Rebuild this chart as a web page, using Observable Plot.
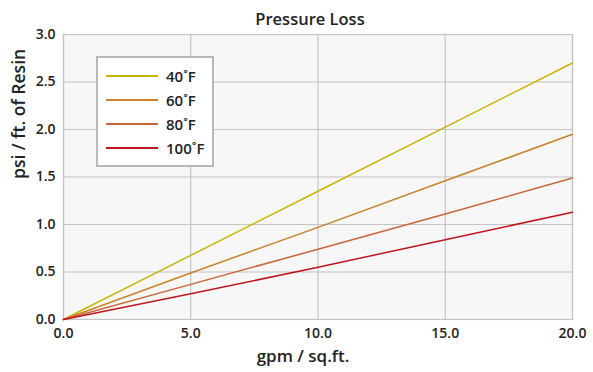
<!DOCTYPE html>
<html>
<head>
<meta charset="utf-8">
<script src="https://cdn.jsdelivr.net/npm/d3@7"></script>
<script src="https://cdn.jsdelivr.net/npm/@observablehq/plot@0.6"></script>
<style>
  html, body { margin: 0; padding: 0; background: #fff; }
  #wrap { position: relative; width: 593px; height: 372px; font-family: "Open Sans", "Noto Sans", sans-serif; }
  #legend { position: absolute; left: 96px; top: 56px; width: 118px; height: 111px; background: #fff; border: 2px solid #b8b8b8; box-sizing: border-box; }
  .row { position: absolute; left: 8px; height: 20px; display: flex; align-items: center; font-size: 15px; font-weight: 600; color: #222; }
  .sw { width: 52px; height: 0; border-top: 2px solid; margin-right: 8px; }
</style>
</head>
<body>
<div id="wrap"><div id="legend"></div></div>
<script>
const title = "Pressure Loss";
const xLabel = "gpm / sq.ft.";
const yLabel = "psi / ft. of Resin";
const flow = [0, 5, 10, 15, 20];
const series = ["40˚F", "60˚F", "80˚F", "100˚F"];
const colors = ["#c8b400", "#c8822a", "#c8663a", "#bf1520"];
const loss40 = [0, 0.675, 1.35, 2.025, 2.70];
const loss60 = [0, 0.49, 0.97, 1.46, 1.95];
const loss80 = [0, 0.37, 0.74, 1.11, 1.49];
const loss100 = [0, 0.27, 0.55, 0.84, 1.13];
const xTicks = [0, 5, 10, 15, 20];
const yTicks = [0, 0.5, 1.0, 1.5, 2.0, 2.5, 3.0];

const allLoss = [loss40, loss60, loss80, loss100];
const data = [];
series.forEach((s, i) => flow.forEach((f, j) => data.push({series: s, flow: f, loss: allLoss[i][j]})));

const fmt = d3.format(".1f");
const chart = Plot.plot({
  width: 593,
  height: 372,
  marginLeft: 63,
  marginRight: 21,
  marginTop: 34,
  marginBottom: 53,
  style: {fontFamily: "'Open Sans', 'Noto Sans', sans-serif", fontSize: "14px", fontWeight: 600, color: "#222", background: "transparent"},
  x: {domain: [0, 20], ticks: xTicks, tickFormat: fmt, label: null},
  y: {domain: [0, 3], ticks: yTicks, tickFormat: fmt, label: null},
  color: {domain: series, range: colors},
  marks: [
    Plot.frame({fill: "#f7f7f7"}),
    Plot.gridX(xTicks, {stroke: "#c4c4c4", strokeOpacity: 1, strokeWidth: 1.2}),
    Plot.gridY(yTicks, {stroke: "#c4c4c4", strokeOpacity: 1, strokeWidth: 1.2}),
    Plot.frame({stroke: "#c4c4c4", strokeWidth: 1.2}),
    Plot.axisX(xTicks, {tickSize: 0, tickPadding: 9, tickFormat: fmt, fontSize: 14, fontWeight: 600, label: null}),
    Plot.axisY(yTicks, {tickSize: 0, tickPadding: 8, tickFormat: fmt, fontSize: 14, fontWeight: 600, label: null}),
    Plot.line(data, {x: "flow", y: "loss", z: "series", stroke: "series", strokeWidth: 1.5}),
    Plot.text([title], {frameAnchor: "top", dx: -8, dy: -21, fontSize: 16.5, fontWeight: 600, fill: "#222"}),
    Plot.text([xLabel], {frameAnchor: "bottom", dx: -15, dy: 42, fontSize: 17, fontWeight: 600, fill: "#222"}),
    Plot.text([yLabel], {frameAnchor: "left", dx: -44, dy: 2, rotate: -90, fontSize: 17.5, fontWeight: 600, fill: "#222"})
  ]
});
const wrap = document.getElementById("wrap");
wrap.insertBefore(chart, wrap.firstChild);

const legend = document.getElementById("legend");
series.forEach((s, i) => {
  const row = document.createElement("div");
  row.className = "row";
  row.style.top = (8 + i * 24) + "px";
  row.innerHTML = `<span class="sw" style="border-color:${colors[i]}"></span><span>${s}</span>`;
  legend.appendChild(row);
});
</script>
</body>
</html>
